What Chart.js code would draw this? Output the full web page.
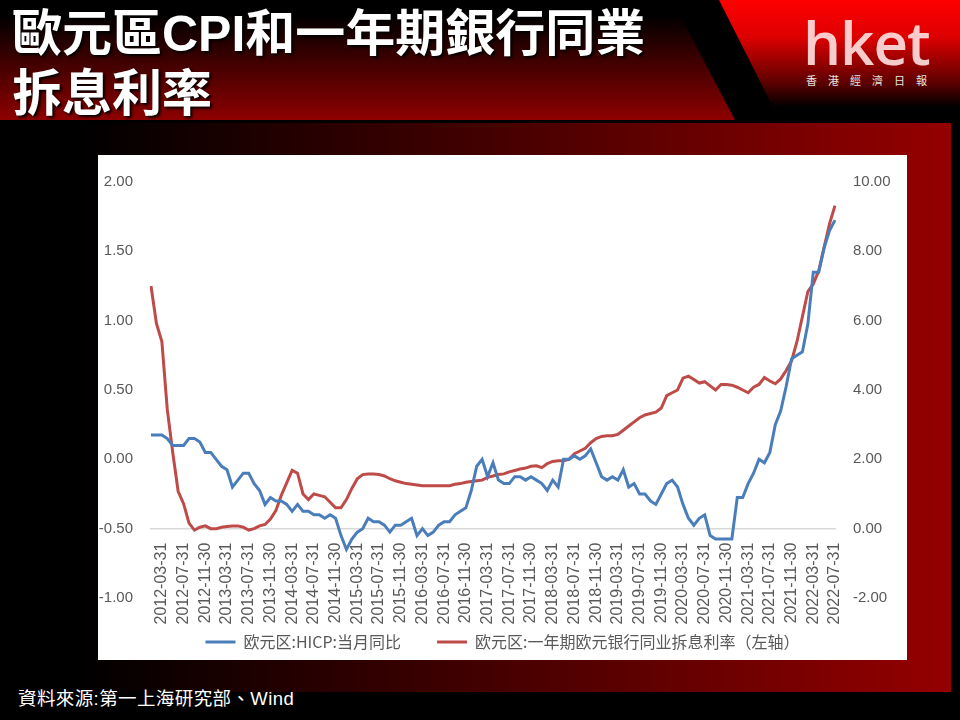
<!DOCTYPE html>
<html>
<head>
<meta charset="utf-8">
<script src="https://cdn.jsdelivr.net/npm/chart.js@4.4.0/dist/chart.umd.min.js"></script>
<style>
    html, body { margin: 0; padding: 0; }
    body {
        width: 960px; height: 720px; background: #000;
        position: relative; overflow: hidden;
        font-family: "Liberation Sans", "Noto Sans CJK TC", sans-serif;
    }
    #head {
        position: absolute; left: 0; top: 0; width: 740px; height: 120px;
        background: linear-gradient(to bottom, #000 12%, #8e0000 100%);
        clip-path: polygon(0 0, 672px 0, 735px 120px, 0 120px);
    }
    #title {
        position: absolute; left: 12px; top: 4px;
        color: #fff; font-size: 50px; font-weight: bold; line-height: 60px;
        text-shadow: 2px 2px 3px #000; white-space: nowrap;
    }
    #banner {
        position: absolute; left: 719px; top: 0; width: 241px; height: 107px;
        background: linear-gradient(to bottom, #ff0000 0%, #dd0000 35%, #5a0000 78%, #000 100%);
        clip-path: polygon(0 0, 241px 0, 241px 107px, 54px 107px);
    }
    #logo {
        position: absolute; left: 803px; top: 6px;
        font-family: "Open Sans", sans-serif; font-weight: 600; font-size: 60px;
        line-height: 72px; letter-spacing: -1px; color: rgba(255, 226, 226, 0.9);
    }
    #logosub {
        position: absolute; left: 806px; top: 74px;
        font-family: "Noto Sans CJK TC", sans-serif; font-size: 11px; line-height: 12px;
        letter-spacing: 11px; color: #e4e4e4; white-space: nowrap;
    }
    #frame {
        position: absolute; left: 0; top: 123px; width: 951px; height: 569px;
        background: linear-gradient(to right, #000 8%, #2a0000 35%, #5a0000 65%, #950000 100%);
    }
    #box {
        position: absolute; left: 98px; top: 155px; width: 809px; height: 505px;
        background: #fff;
    }
    #src {
        position: absolute; left: 18px; top: 689px;
        color: #fff; font-size: 18.5px; line-height: 20px; letter-spacing: 0.4px; white-space: nowrap;
    }
</style>
</head>
<body>
<div id="head"></div>
<div id="title">歐元區CPI和一年期銀行同業<br>拆息利率</div>
<div id="banner"></div>
<div id="logo">hket</div>
<div id="logosub">香港經濟日報</div>
<div id="frame"></div>
<div id="box"><canvas id="euroChart" width="809" height="505"></canvas></div>
<div id="src">資料來源:第一上海研究部、Wind</div>

<script>
    // ---- Categories: month-ends from 2012-01 to 2022-07 ----
    const START_YEAR = 2012;
    const START_MONTH = 1;
    const MONTH_COUNT = 127;

    // ---- Series ----
    // HICP yoy (%), plotted on the right-hand axis
    const hicp = [
        2.7, 2.7, 2.7, 2.6, 2.4, 2.4, 2.4, 2.6, 2.6, 2.5, 2.2, 2.2,
        2.0, 1.8, 1.7, 1.2, 1.4, 1.6, 1.6, 1.3, 1.1, 0.7, 0.9, 0.8,
        0.8, 0.7, 0.5, 0.7, 0.5, 0.5, 0.4, 0.4, 0.3, 0.4, 0.3, -0.2,
        -0.6, -0.3, -0.1, 0.0, 0.3, 0.2, 0.2, 0.1, -0.1, 0.1, 0.1, 0.2,
        0.3, -0.2, 0.0, -0.2, -0.1, 0.1, 0.2, 0.2, 0.4, 0.5, 0.6, 1.1,
        1.8, 2.0, 1.5, 1.9, 1.4, 1.3, 1.3, 1.5, 1.5, 1.4, 1.5, 1.4,
        1.3, 1.1, 1.4, 1.2, 2.0, 2.0, 2.1, 2.0, 2.1, 2.3, 1.9, 1.5,
        1.4, 1.5, 1.4, 1.7, 1.2, 1.3, 1.0, 1.0, 0.8, 0.7, 1.0, 1.3,
        1.4, 1.2, 0.7, 0.3, 0.1, 0.3, 0.4, -0.2, -0.3, -0.3, -0.3, -0.3,
        0.9, 0.9, 1.3, 1.6, 2.0, 1.9, 2.2, 3.0, 3.4, 4.1, 4.9, 5.0,
        5.1, 5.9, 7.4, 7.4, 8.1, 8.6, 8.9
    ];
    // 1-year interbank rate, plotted on the left-hand axis
    const interbank = [
        1.25, 0.98, 0.85, 0.36, 0.05, -0.23, -0.32, -0.46, -0.51, -0.49, -0.48, -0.50,
        -0.50, -0.49, -0.485, -0.48, -0.48, -0.49, -0.51, -0.50, -0.48, -0.47, -0.43, -0.37,
        -0.26, -0.17, -0.08, -0.10, -0.25, -0.29, -0.25, -0.26, -0.27, -0.31, -0.35, -0.35,
        -0.29, -0.21, -0.14, -0.11, -0.105, -0.105, -0.11, -0.12, -0.14, -0.155, -0.165, -0.175,
        -0.18, -0.185, -0.19, -0.19, -0.19, -0.19, -0.19, -0.19, -0.18, -0.175, -0.165, -0.16,
        -0.155, -0.15, -0.13, -0.12, -0.11, -0.105, -0.09, -0.08, -0.07, -0.063, -0.05, -0.047,
        -0.06, -0.03, -0.015, -0.01, -0.01, 0.0, 0.04, 0.06, 0.08, 0.12, 0.15, 0.165,
        0.17, 0.17, 0.18, 0.21, 0.24, 0.27, 0.30, 0.32, 0.33, 0.34, 0.37, 0.46,
        0.48, 0.50, 0.585, 0.60, 0.575, 0.55, 0.56, 0.53, 0.50, 0.54, 0.54, 0.535,
        0.52, 0.50, 0.48, 0.52, 0.54, 0.59, 0.565, 0.545, 0.58, 0.64, 0.71, 0.85,
        1.03, 1.21, 1.265, 1.36, 1.53, 1.70, 1.83
    ];
    const seriesNames = ["欧元区:HICP:当月同比", "欧元区:一年期欧元银行同业拆息利率（左轴）"];

    // ---- Axis ranges ----
    const leftTicks  = { min: -1, max: 2, step: 0.5 };
    const rightTicks = { min: -2, max: 10, step: 2 };

    const COLORS = {
        blue: "#4a7ebb",
        red:  "#be4b48",
        text: "#595959",
        axis: "#d9d9d9",
    };

    function monthEnds() {
        const out = [];
        for (let i = 0; i < MONTH_COUNT; i++) {
            const y = START_YEAR + Math.floor((START_MONTH - 1 + i) / 12);
            const m = (START_MONTH - 1 + i) % 12 + 1;
            const d = new Date(Date.UTC(y, m, 0)).getUTCDate();
            out.push(y + "-" + String(m).padStart(2, "0") + "-" + String(d).padStart(2, "0"));
        }
        return out;
    }
    const months = monthEnds();

    new Chart(document.getElementById("euroChart"), {
        type: "line",
        data: {
            labels: months,
            datasets: [
                {
                    label: seriesNames[0],
                    data: hicp,
                    yAxisID: "y1",
                    borderColor: COLORS.blue,
                    backgroundColor: COLORS.blue,
                    borderWidth: 3,
                    pointRadius: 0,
                    tension: 0,
                },
                {
                    label: seriesNames[1],
                    data: interbank,
                    yAxisID: "y",
                    borderColor: COLORS.red,
                    backgroundColor: COLORS.red,
                    borderWidth: 3,
                    pointRadius: 0,
                    tension: 0,
                },
            ],
        },
        options: {
            responsive: false,
            animation: false,
            layout: { padding: { top: 16, left: 0, right: 0, bottom: 0 } },
            plugins: {
                tooltip: { enabled: false },
                legend: {
                    position: "bottom",
                    labels: {
                        usePointStyle: true,
                        pointStyle: "line",
                        pointStyleWidth: 30,
                        padding: 36,
                        color: COLORS.text,
                        font: { size: 16, family: '"Noto Sans CJK SC", sans-serif' },
                    },
                },
            },
            scales: {
                x: {
                    position: { y: -0.5 },
                    grid: { display: false },
                    border: { display: true, color: COLORS.axis, width: 1.5 },
                    ticks: {
                        autoSkip: false,
                        maxRotation: 90,
                        minRotation: 90,
                        padding: 6,
                        color: COLORS.text,
                        font: { size: 16, family: '"Liberation Sans", sans-serif' },
                        callback: (v, i) => ((i - 2) % 4 === 0 ? months[i] : ""),
                    },
                },
                y: {
                    position: "left",
                    min: leftTicks.min,
                    max: leftTicks.max,
                    grid: { display: false, drawTicks: false },
                    border: { display: false },
                    afterFit: (s) => { s.width = 53; },
                    ticks: {
                        stepSize: leftTicks.step,
                        padding: 18,
                        color: COLORS.text,
                        font: { size: 15, family: '"Liberation Sans", sans-serif' },
                        callback: (v) => v.toFixed(2),
                    },
                },
                y1: {
                    position: "right",
                    min: rightTicks.min,
                    max: rightTicks.max,
                    grid: { display: false, drawTicks: false },
                    border: { display: false },
                    afterFit: (s) => { s.width = 72; },
                    ticks: {
                        stepSize: rightTicks.step,
                        padding: 18,
                        color: COLORS.text,
                        font: { size: 15, family: '"Liberation Sans", sans-serif' },
                        callback: (v) => v.toFixed(2),
                    },
                },
            },
        },
    });
</script>
</body>
</html>
